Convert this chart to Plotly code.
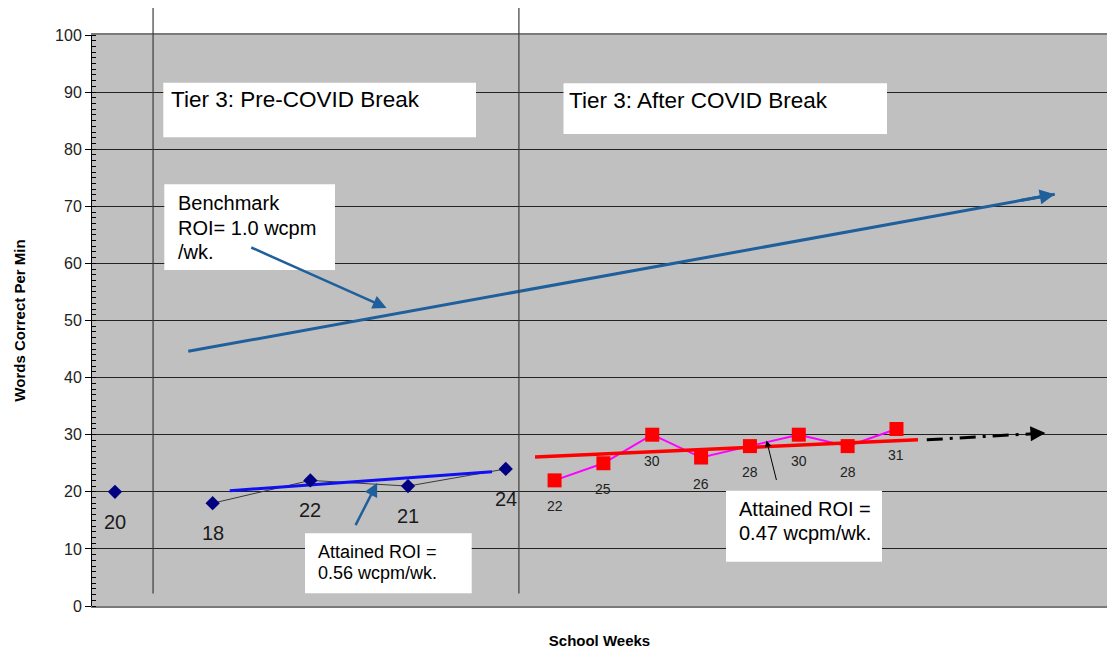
import plotly.graph_objects as go

# ---------------- data ----------------
PRE_WEEKS = [1, 3, 5, 7, 9]
PRE_WCPM = [20, 18, 22, 21, 24]
PRE_LABELS = ["20", "18", "22", "21", "24"]

POST_WEEKS = [10, 11, 12, 13, 14, 15, 16, 17]
POST_WCPM = [22, 25, 30, 26, 28, 30, 28, 31]
POST_LABELS = ["22", "25", "30", "26", "28", "30", "28", "31"]

PRE_TREND_WEEK = [3.35, 8.72]
PRE_TREND_WCPM = [20.2, 23.5]

POST_TREND_WEEK = [9.6, 17.44]
POST_TREND_WCPM = [26.1, 29.1]

PROJ_WEEK = [17.62, 20.05]
PROJ_WCPM = [29.1, 30.3]

BENCH_WEEK = [2.5, 20.24]
BENCH_WCPM = [44.6, 72.1]

PHASE_LINES_WEEK = [1.78, 9.27]

Y_TICKS = list(range(0, 101, 10))
WEEK_RANGE = [0.53, 21.31]

# ---------------- layout constants ----------------
OFF = 0  # page body margin removed via post_script
W, H = 1107 - OFF, 649 - OFF
ML, MR, MT, MB = 92 - OFF, 0, 35 - OFF, 43
PW, PH = W - ML - MR, H - MT - MB
FONT = "Arial, Liberation Sans, sans-serif"
BENCH_COLOR = "#1f5f9b"


def px(xp):
    """screen x pixel -> paper fraction"""
    return (xp - OFF - ML) / PW


def py(yp):
    """screen y pixel -> paper fraction"""
    return (H - MB - (yp - OFF)) / PH


fig = go.Figure()

# pre-COVID connecting line (thin)
fig.add_trace(go.Scatter(
    x=PRE_WEEKS[1:], y=PRE_WCPM[1:], mode="lines",
    line=dict(color="#3a3a3a", width=1), hoverinfo="skip", showlegend=False))
# pre trend
fig.add_trace(go.Scatter(
    x=PRE_TREND_WEEK, y=PRE_TREND_WCPM, mode="lines",
    line=dict(color="#1010f0", width=3), showlegend=False))
# pre markers
fig.add_trace(go.Scatter(
    x=PRE_WEEKS, y=PRE_WCPM, mode="markers",
    marker=dict(symbol="diamond", size=11, color="#000080"), showlegend=False))

# post connecting line
fig.add_trace(go.Scatter(
    x=POST_WEEKS, y=POST_WCPM, mode="lines",
    line=dict(color="#ff00ff", width=2), showlegend=False))
# post trend
fig.add_trace(go.Scatter(
    x=POST_TREND_WEEK, y=POST_TREND_WCPM, mode="lines",
    line=dict(color="#ff0000", width=3.5), showlegend=False))
# post markers
fig.add_trace(go.Scatter(
    x=POST_WEEKS, y=POST_WCPM, mode="markers",
    marker=dict(symbol="square", size=14, color="#ff0000"), showlegend=False))

# projection (dash-dot)
fig.add_trace(go.Scatter(
    x=PROJ_WEEK, y=PROJ_WCPM, mode="lines",
    line=dict(color="#000000", width=3, dash="16px,7px,3px,7px"), showlegend=False))

# benchmark line
fig.add_trace(go.Scatter(
    x=BENCH_WEEK, y=BENCH_WCPM, mode="lines",
    line=dict(color=BENCH_COLOR, width=3), showlegend=False))

annotations = []

# arrow heads for benchmark and projection
def head(xs, ys, color, width, frac):
    annotations.append(dict(
        x=xs[1], y=ys[1], xref="x", yref="y",
        ax=xs[1] - frac * (xs[1] - xs[0]), ay=ys[1] - frac * (ys[1] - ys[0]),
        axref="x", ayref="y", text="", showarrow=True,
        arrowhead=2, arrowsize=1, arrowwidth=width, arrowcolor=color,
        standoff=0, startstandoff=0))

head(BENCH_WEEK, BENCH_WCPM, BENCH_COLOR, 3, 0.04)
head(PROJ_WEEK, PROJ_WCPM, "#000000", 3, 0.12)

# point labels
for w, v, t in zip(PRE_WEEKS, PRE_WCPM, PRE_LABELS):
    annotations.append(dict(x=w, y=v, xref="x", yref="y", text=t, showarrow=False,
                            yshift=-30, font=dict(family=FONT, size=20, color="#1a1a1a")))
for w, v, t in zip(POST_WEEKS, POST_WCPM, POST_LABELS):
    annotations.append(dict(x=w, y=v, xref="x", yref="y", text=t, showarrow=False,
                            yshift=-26, font=dict(family=FONT, size=14, color="#222222")))

# callout arrows (data coordinates)
CALLOUTS = [
    # head_x, head_y, tail_x, tail_y, color, width
    (6.56, 52.2, 3.76, 62.9, BENCH_COLOR, 2.5),
    (6.37, 21.6, 5.91, 13.9, BENCH_COLOR, 2.5),
    (14.34, 29.0, 14.55, 21.8, "#000000", 1),
]
for hx, hy, tx, ty, c, wd in CALLOUTS:
    annotations.append(dict(
        x=hx, y=hy, xref="x", yref="y", ax=tx, ay=ty, axref="x", ayref="y",
        text="", showarrow=True, arrowhead=2, arrowsize=1.3 if wd < 2 else 1.1,
        arrowwidth=wd, arrowcolor=c, standoff=0, startstandoff=0))

# text boxes: (left, top, right, bottom) in screen pixels
BOXES = [
    (163.3, 82.7, 476, 137.3),
    (563.5, 83.3, 887, 134),
    (164.3, 184.3, 335, 270),
    (305, 533.3, 471.7, 593.3),
    (726, 490.7, 882, 561.7),
]
shapes = []
for l, t, r, b in BOXES:
    shapes.append(dict(type="rect", xref="paper", yref="paper",
                       x0=px(l), x1=px(r), y0=py(b), y1=py(t),
                       fillcolor="white", line=dict(width=0), layer="above"))

TEXT_LINES = [
    # text, left px, center y px, size
    ("Tier 3: Pre-COVID Break", 170, 100, 22.5),
    ("Tier 3: After COVID Break", 568, 101, 22.5),
    ("Benchmark", 176.5, 203.3, 20),
    ("ROI= 1.0 wcpm", 176.5, 227.5, 20),
    ("/wk.", 176.5, 251.7, 20),
    ("Attained ROI =", 317, 551.7, 18),
    ("0.56 wcpm/wk.", 317, 573.3, 18),
    ("Attained ROI =", 737.5, 509, 20),
    ("0.47 wcpm/wk.", 737.5, 533, 20),
]
for t, l, c, s in TEXT_LINES:
    annotations.append(dict(x=px(l), y=py(c), xref="paper", yref="paper",
                            xanchor="left", yanchor="middle", text=t, showarrow=False,
                            borderpad=0, font=dict(family=FONT, size=s, color="#000000")))

# phase-change vertical lines
for xw in PHASE_LINES_WEEK:
    shapes.append(dict(type="line", xref="x", yref="paper",
                       x0=xw, x1=xw, y0=py(593.5), y1=py(8),
                       line=dict(color="#3c3c3c", width=1.2), layer="above"))

fig.update_layout(
    width=W, height=H, autosize=False,
    margin=dict(l=ML, r=MR, t=MT, b=MB),
    paper_bgcolor="white", plot_bgcolor="#c0c0c0",
    font=dict(family=FONT, color="#000000"),
    shapes=shapes, annotations=annotations,
    showlegend=False,
)
fig.update_xaxes(
    range=WEEK_RANGE, showticklabels=False, ticks="", showgrid=False, zeroline=False,
    showline=True, linecolor="#7a7a7a", linewidth=2, mirror=True, automargin=False,
    title=dict(text="<b>School Weeks</b>", font=dict(family=FONT, size=15, color="#000"),
               standoff=31),
)
fig.update_yaxes(
    range=[0, 100], tickvals=Y_TICKS, ticks="outside", ticklen=6, tickcolor="#000",
    tickfont=dict(family=FONT, size=16, color="#222"), ticksuffix="\u00a0",
    showgrid=True, gridcolor="#222222", gridwidth=1, zeroline=False,
    showline=True, linecolor="#000", linewidth=1, automargin=False,
    minor=dict(dtick=1, ticks="inside", ticklen=4, tickcolor="#000", showgrid=False),
    title=dict(text="<b>Words Correct Per Min</b>", font=dict(family=FONT, size=15, color="#000"),
               standoff=25),
)

fig.write_html(
    "out.html",
    config={"responsive": False, "displayModeBar": False},
    post_script="document.body.style.margin='0';document.body.style.overflow='hidden';",
)
